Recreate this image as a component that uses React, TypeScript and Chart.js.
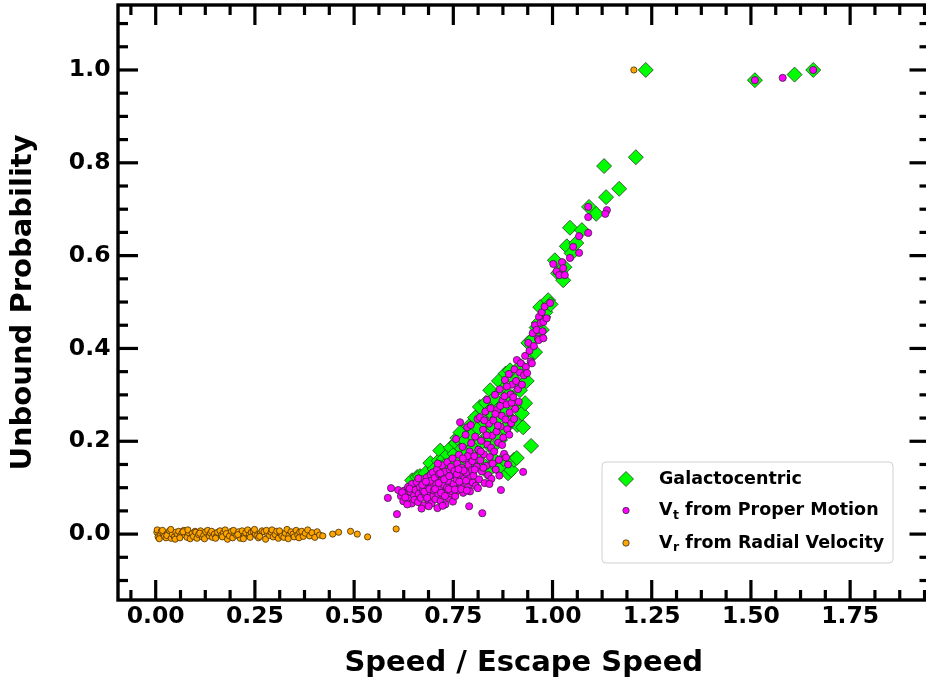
import { useEffect, useRef } from 'react';
import { Chart, registerables } from 'chart.js';

Chart.register(...registerables);

// ---- axes ----
const X_MIN = -0.095;
const X_MAX = 1.95;
const Y_MIN = -0.142;
const Y_MAX = 1.14;
const X_TICKS = [0, 0.25, 0.5, 0.75, 1.0, 1.25, 1.5, 1.75];
const Y_TICKS = [0.0, 0.2, 0.4, 0.6, 0.8, 1.0];
const X_MINOR_STEP = 0.0625;
const Y_MINOR_STEP = 0.05;
const X_TITLE = 'Speed / Escape Speed';
const Y_TITLE = 'Unbound Probability';

// ---- legend ----
const LEGEND_ITEMS = [
  { main: 'Galactocentric', sub: '', rest: '' },
  { main: 'V', sub: 't', rest: ' from Proper Motion' },
  { main: 'V', sub: 'r', rest: ' from Radial Velocity' },
];

// ---- data: [speed / escape speed, unbound probability] ----
const galactocentric: [number, number][] = [
  [0.646, 0.116], [0.659, 0.123], [0.666, 0.125], [0.672, 0.110], [0.680, 0.131], [0.686, 0.118],
  [0.692, 0.153], [0.697, 0.126], [0.703, 0.140], [0.708, 0.131], [0.713, 0.158], [0.717, 0.180],
  [0.721, 0.143], [0.726, 0.162], [0.731, 0.150], [0.736, 0.171], [0.740, 0.137], [0.744, 0.186],
  [0.749, 0.158], [0.753, 0.173], [0.757, 0.196], [0.760, 0.207], [0.764, 0.162], [0.768, 0.219],
  [0.772, 0.184], [0.776, 0.149], [0.780, 0.202], [0.785, 0.175], [0.789, 0.232], [0.793, 0.160],
  [0.797, 0.214], [0.801, 0.187], [0.805, 0.251], [0.809, 0.170], [0.813, 0.228], [0.817, 0.274],
  [0.821, 0.198], [0.825, 0.150], [0.829, 0.241], [0.832, 0.283], [0.835, 0.134], [0.838, 0.212],
  [0.841, 0.265], [0.843, 0.310], [0.847, 0.186], [0.850, 0.232], [0.853, 0.292], [0.856, 0.158],
  [0.860, 0.145], [0.862, 0.251], [0.865, 0.330], [0.868, 0.203], [0.868, 0.142], [0.871, 0.275],
  [0.874, 0.310], [0.876, 0.162], [0.879, 0.228], [0.882, 0.346], [0.885, 0.265], [0.888, 0.131],
  [0.890, 0.300], [0.893, 0.353], [0.896, 0.138], [0.899, 0.244], [0.903, 0.160], [0.906, 0.330],
  [0.910, 0.164], [0.911, 0.235], [0.915, 0.275], [0.918, 0.310], [0.920, 0.362], [0.923, 0.260],
  [0.926, 0.230], [0.931, 0.282], [0.935, 0.330], [0.939, 0.412], [0.946, 0.190], [0.948, 0.418],
  [0.951, 0.390], [0.956, 0.392], [0.960, 0.445], [0.965, 0.455], [0.969, 0.489], [0.973, 0.440],
  [0.977, 0.468], [0.982, 0.478], [0.989, 0.504], [0.995, 0.495],
  [1.006, 0.590], [1.014, 0.562], [1.027, 0.547], [1.030, 0.575], [1.036, 0.620], [1.044, 0.660],
  [1.048, 0.605], [1.060, 0.627], [1.074, 0.655], [1.092, 0.705], [1.110, 0.690], [1.130, 0.793],
  [1.135, 0.726], [1.168, 0.744], [1.210, 0.812], [1.235, 1.000], [1.510, 0.978], [1.610, 0.990],
  [1.657, 1.000],
];

const properMotion: [number, number][] = [
  [0.585, 0.078], [0.593, 0.099], [0.608, 0.043], [0.611, 0.095], [0.618, 0.082], [0.624, 0.071],
  [0.627, 0.094], [0.632, 0.087], [0.636, 0.102], [0.639, 0.076], [0.642, 0.091], [0.645, 0.066],
  [0.648, 0.099], [0.651, 0.083], [0.634, 0.064], [0.621, 0.090], [0.646, 0.108], [0.629, 0.079],
  [0.640, 0.098], [0.652, 0.074],
  [0.655, 0.095], [0.658, 0.112], [0.661, 0.069], [0.663, 0.087], [0.666, 0.101], [0.668, 0.078],
  [0.671, 0.118], [0.673, 0.093], [0.676, 0.062], [0.678, 0.106], [0.680, 0.084], [0.683, 0.122],
  [0.685, 0.099], [0.687, 0.073], [0.689, 0.111], [0.691, 0.089], [0.693, 0.128], [0.695, 0.066],
  [0.697, 0.104], [0.699, 0.082], [0.662, 0.120], [0.670, 0.055], [0.677, 0.091], [0.684, 0.078],
  [0.690, 0.097], [0.694, 0.115], [0.698, 0.133], [0.688, 0.060], [0.672, 0.106], [0.681, 0.113],
  [0.701, 0.094], [0.703, 0.121], [0.705, 0.075], [0.707, 0.108], [0.709, 0.140], [0.710, 0.056],
  [0.712, 0.087], [0.714, 0.129], [0.716, 0.099], [0.718, 0.071], [0.720, 0.115], [0.722, 0.148],
  [0.724, 0.083], [0.726, 0.106], [0.728, 0.134], [0.730, 0.064], [0.731, 0.093], [0.733, 0.121],
  [0.735, 0.155], [0.737, 0.078], [0.739, 0.112], [0.741, 0.139], [0.743, 0.088], [0.745, 0.102],
  [0.746, 0.127], [0.748, 0.163], [0.749, 0.070], [0.704, 0.097], [0.713, 0.110], [0.719, 0.089],
  [0.727, 0.118], [0.734, 0.100], [0.740, 0.125], [0.747, 0.092], [0.711, 0.152], [0.723, 0.061],
  [0.738, 0.097], [0.744, 0.145], [0.729, 0.082], [0.717, 0.131],
  [0.751, 0.108], [0.753, 0.136], [0.755, 0.082], [0.757, 0.205], [0.758, 0.118], [0.760, 0.152],
  [0.762, 0.094], [0.764, 0.171], [0.766, 0.127], [0.767, 0.241], [0.769, 0.104], [0.771, 0.143],
  [0.773, 0.188], [0.775, 0.089], [0.777, 0.119], [0.779, 0.160], [0.781, 0.214], [0.783, 0.132],
  [0.785, 0.230], [0.787, 0.101], [0.788, 0.149], [0.790, 0.060], [0.791, 0.178], [0.793, 0.121],
  [0.795, 0.196], [0.797, 0.138], [0.799, 0.111], [0.754, 0.096], [0.759, 0.129], [0.765, 0.113],
  [0.770, 0.097], [0.776, 0.137], [0.782, 0.115], [0.786, 0.168], [0.792, 0.092], [0.798, 0.157],
  [0.763, 0.140], [0.774, 0.163], [0.784, 0.094], [0.794, 0.235],
  [0.801, 0.126], [0.803, 0.168], [0.805, 0.210], [0.807, 0.104], [0.809, 0.145], [0.811, 0.248],
  [0.813, 0.182], [0.815, 0.118], [0.817, 0.252], [0.818, 0.159], [0.820, 0.201], [0.822, 0.135],
  [0.823, 0.045], [0.825, 0.225], [0.827, 0.172], [0.829, 0.110], [0.831, 0.264], [0.833, 0.147],
  [0.835, 0.289], [0.836, 0.193], [0.838, 0.127], [0.840, 0.238], [0.842, 0.166], [0.844, 0.271],
  [0.846, 0.119], [0.848, 0.212], [0.849, 0.152], [0.804, 0.139], [0.812, 0.099], [0.819, 0.178],
  [0.826, 0.143], [0.834, 0.213], [0.841, 0.108], [0.845, 0.186], [0.828, 0.245],
  [0.851, 0.245], [0.853, 0.178], [0.855, 0.300], [0.857, 0.139], [0.859, 0.221], [0.861, 0.268],
  [0.863, 0.197], [0.865, 0.160], [0.867, 0.312], [0.869, 0.232], [0.870, 0.095], [0.872, 0.255],
  [0.874, 0.288], [0.876, 0.208], [0.878, 0.173], [0.880, 0.332], [0.882, 0.247], [0.884, 0.279],
  [0.886, 0.226], [0.888, 0.150], [0.890, 0.345], [0.892, 0.262], [0.894, 0.301], [0.896, 0.239],
  [0.898, 0.322], [0.856, 0.259], [0.862, 0.234], [0.868, 0.276], [0.873, 0.192], [0.879, 0.297],
  [0.885, 0.318], [0.891, 0.214], [0.897, 0.283], [0.866, 0.126], [0.883, 0.165],
  [0.901, 0.295], [0.904, 0.355], [0.906, 0.270], [0.908, 0.330], [0.910, 0.375], [0.913, 0.312],
  [0.915, 0.285], [0.918, 0.348], [0.920, 0.368], [0.923, 0.322], [0.926, 0.134], [0.928, 0.342],
  [0.931, 0.384], [0.933, 0.360], [0.936, 0.347], [0.939, 0.412], [0.942, 0.395], [0.945, 0.372],
  [0.948, 0.368], [0.903, 0.248],
  [0.950, 0.433], [0.953, 0.405], [0.956, 0.450], [0.960, 0.440], [0.963, 0.421], [0.965, 0.418],
  [0.966, 0.468], [0.970, 0.455], [0.973, 0.478], [0.975, 0.437], [0.977, 0.457], [0.977, 0.422],
  [0.980, 0.490], [0.985, 0.465], [0.994, 0.498],
  [1.002, 0.582], [1.010, 0.566], [1.017, 0.558], [1.024, 0.586], [1.027, 0.573], [1.031, 0.558],
  [1.044, 0.595], [1.052, 0.619], [1.067, 0.606], [1.067, 0.642], [1.090, 0.649], [1.090, 0.705],
  [1.090, 0.683], [1.137, 0.698], [1.133, 0.690],
  [1.510, 0.978], [1.580, 0.983], [1.657, 1.000],
];

const radialVelocity: [number, number][] = [
  [0.003, 0.004], [0.006, -0.006], [0.004, 0.009], [0.011, -0.002], [0.014, 0.006], [0.009, -0.010],
  [0.019, 0.001], [0.022, -0.005], [0.017, 0.008], [0.026, -0.008], [0.031, 0.003], [0.028, -0.003],
  [0.035, 0.007], [0.039, -0.009], [0.042, 0.000], [0.038, 0.010], [0.047, -0.006], [0.051, 0.004],
  [0.055, -0.001], [0.049, -0.011], [0.058, 0.006], [0.062, -0.004], [0.066, 0.002], [0.061, -0.008],
  [0.071, 0.008], [0.074, -0.002], [0.069, 0.005], [0.079, -0.007], [0.083, 0.003], [0.087, -0.010],
  [0.081, 0.009], [0.092, 0.001], [0.095, -0.005], [0.099, 0.006], [0.104, -0.009], [0.101, 0.004],
  [0.108, -0.001], [0.113, 0.007], [0.117, -0.006], [0.111, 0.002], [0.121, -0.003], [0.126, 0.005],
  [0.123, -0.010], [0.131, 0.008], [0.135, -0.004], [0.138, 0.002], [0.143, -0.007], [0.141, 0.006],
  [0.148, 0.000], [0.153, -0.005], [0.156, 0.004], [0.151, -0.009], [0.162, 0.007], [0.166, -0.002],
  [0.171, 0.003], [0.168, -0.006], [0.175, 0.009], [0.181, -0.011], [0.178, 0.001], [0.186, -0.004],
  [0.191, 0.006], [0.194, -0.008], [0.199, 0.002], [0.196, 0.008], [0.204, -0.003], [0.209, 0.005],
  [0.213, -0.009], [0.207, -0.001], [0.218, 0.007], [0.223, -0.005], [0.227, 0.003], [0.221, -0.010],
  [0.232, 0.009], [0.236, -0.002], [0.241, 0.004], [0.238, -0.007], [0.246, 0.006], [0.251, 0.000],
  [0.255, -0.004], [0.249, 0.010], [0.259, -0.008], [0.264, 0.002], [0.268, 0.007], [0.262, -0.005],
  [0.273, 0.005], [0.277, -0.011], [0.282, 0.001], [0.279, 0.008], [0.287, -0.003], [0.291, 0.004],
  [0.296, -0.006], [0.293, 0.009], [0.301, -0.001], [0.305, 0.006], [0.309, -0.009], [0.314, 0.003],
  [0.318, -0.004], [0.312, 0.007], [0.323, -0.007], [0.327, 0.002], [0.331, 0.010], [0.336, -0.003],
  [0.334, -0.010], [0.341, 0.005], [0.346, 0.000], [0.349, -0.006], [0.354, 0.008], [0.358, -0.002],
  [0.363, 0.004], [0.361, -0.008], [0.368, 0.006], [0.372, -0.005], [0.377, 0.002], [0.383, 0.009],
  [0.388, -0.004], [0.394, 0.003], [0.401, -0.007], [0.407, 0.005], [0.413, -0.002], [0.421, -0.004],
  [0.446, 0.000], [0.461, 0.004], [0.491, 0.006], [0.508, 0.000], [0.534, -0.006], [0.606, 0.011],
  [1.205, 1.000],
];

const COLORS = {
  gal: '#00ff00',
  proper: '#ff00ff',
  radial: '#ffa500',
  edge: 'rgba(40,40,40,0.75)',
};

const FONT = 'DejaVu Sans';

const toPts = (arr: [number, number][]) => arr.map(([x, y]) => ({ x, y }));

const isMultiple = (v: number, step: number) => Math.abs(v / step - Math.round(v / step)) < 1e-6;

const zeroPadding = (scale: any) => {
  scale.paddingTop = 0;
  scale.paddingBottom = 0;
  scale.paddingLeft = 0;
  scale.paddingRight = 0;
};

const framePlugin = {
  id: 'mplFrame',
  afterDatasetsDraw(chart: any) {
    const { ctx, chartArea: ca, scales } = chart;
    const xs = scales.x;
    const ys = scales.y;
    ctx.save();
    ctx.strokeStyle = '#000';
    ctx.lineCap = 'butt';
    ctx.lineWidth = 3.2;
    const line = (x1: number, y1: number, x2: number, y2: number) => {
      ctx.beginPath();
      ctx.moveTo(x1, y1);
      ctx.lineTo(x2, y2);
      ctx.stroke();
    };
    const tickX = (v: number, len: number) => {
      const p = xs.getPixelForValue(v);
      line(p, ca.bottom, p, ca.bottom - len);
      line(p, ca.top, p, ca.top + len);
    };
    const tickY = (v: number, len: number) => {
      const p = ys.getPixelForValue(v);
      line(ca.left, p, ca.left + len, p);
      line(ca.right, p, ca.right - len, p);
    };
    for (let k = Math.ceil(xs.min / X_MINOR_STEP); k * X_MINOR_STEP <= xs.max; k++) {
      const v = k * X_MINOR_STEP;
      if (X_TICKS.some((t) => Math.abs(t - v) < 1e-6)) continue;
      tickX(v, 10);
    }
    X_TICKS.forEach((v) => tickX(v, 20));
    for (let k = Math.ceil(ys.min / Y_MINOR_STEP); k * Y_MINOR_STEP <= ys.max; k++) {
      const v = k * Y_MINOR_STEP;
      if (isMultiple(v, 0.2)) continue;
      tickY(v, 10);
    }
    for (let k = Math.ceil(ys.min / 0.2); k * 0.2 <= ys.max; k++) tickY(k * 0.2, 20);
    ctx.lineWidth = 3.4;
    ctx.strokeRect(ca.left, ca.top, ca.right - ca.left, ca.bottom - ca.top);
    ctx.restore();
  },
};

const legendPlugin = {
  id: 'mplLegend',
  afterDraw(chart: any) {
    const { ctx, chartArea: ca } = chart;
    const right = ca.right - 36.5;
    const bottom = ca.bottom - 37;
    const w = 291;
    const h = 101;
    const left = right - w;
    const top = bottom - h;
    ctx.save();
    ctx.beginPath();
    const r = 4;
    ctx.moveTo(left + r, top);
    ctx.lineTo(right - r, top);
    ctx.quadraticCurveTo(right, top, right, top + r);
    ctx.lineTo(right, bottom - r);
    ctx.quadraticCurveTo(right, bottom, right - r, bottom);
    ctx.lineTo(left + r, bottom);
    ctx.quadraticCurveTo(left, bottom, left, bottom - r);
    ctx.lineTo(left, top + r);
    ctx.quadraticCurveTo(left, top, left + r, top);
    ctx.closePath();
    ctx.fillStyle = 'rgba(255,255,255,0.85)';
    ctx.fill();
    ctx.strokeStyle = '#d0d0d0';
    ctx.lineWidth = 1;
    ctx.stroke();

    const mx = left + 24;
    const tx = left + 57;
    const rows = [top + 17, top + 48.5, top + 81];
    ctx.lineWidth = 1;
    ctx.strokeStyle = COLORS.edge;
    ctx.beginPath();
    const d = 7.5;
    ctx.moveTo(mx - d, rows[0]);
    ctx.lineTo(mx, rows[0] - d);
    ctx.lineTo(mx + d, rows[0]);
    ctx.lineTo(mx, rows[0] + d);
    ctx.closePath();
    ctx.fillStyle = COLORS.gal;
    ctx.fill();
    ctx.stroke();
    [[COLORS.proper, rows[1]], [COLORS.radial, rows[2]]].forEach(([c, y]: any) => {
      ctx.beginPath();
      ctx.arc(mx, y, 3.2, 0, Math.PI * 2);
      ctx.fillStyle = c;
      ctx.fill();
      ctx.stroke();
    });

    ctx.fillStyle = '#000';
    ctx.textBaseline = 'middle';
    ctx.textAlign = 'left';
    LEGEND_ITEMS.forEach((item, i) => {
      const y = rows[i];
      let x = tx;
      ctx.font = `bold 17.5px "${FONT}"`;
      ctx.fillText(item.main, x, y);
      x += ctx.measureText(item.main).width;
      if (item.sub) {
        ctx.font = `bold 12.5px "${FONT}"`;
        ctx.fillText(item.sub, x + 0.5, y + 5);
        x += ctx.measureText(item.sub).width + 0.5;
        ctx.font = `bold 17.5px "${FONT}"`;
      }
      if (item.rest) ctx.fillText(item.rest, x, y);
    });
    ctx.restore();
  },
};

export default function App() {
  const canvasRef = useRef<HTMLCanvasElement | null>(null);

  useEffect(() => {
    document.body.style.margin = '0';
    const canvas = canvasRef.current;
    if (!canvas) return;
    const chart = new Chart(canvas, {
      type: 'scatter',
      data: {
        datasets: [
          {
            label: 'Galactocentric',
            data: toPts(galactocentric),
            pointStyle: 'rectRot',
            pointRadius: 7.5,
            backgroundColor: COLORS.gal,
            borderColor: COLORS.edge,
            borderWidth: 1,
            order: 3,
          },
          {
            label: 'Vt from Proper Motion',
            data: toPts(properMotion),
            pointStyle: 'circle',
            pointRadius: 3.6,
            backgroundColor: COLORS.proper,
            borderColor: COLORS.edge,
            borderWidth: 1,
            order: 2,
          },
          {
            label: 'Vr from Radial Velocity',
            data: toPts(radialVelocity),
            pointStyle: 'circle',
            pointRadius: 3.1,
            backgroundColor: COLORS.radial,
            borderColor: 'rgba(80,50,0,0.85)',
            borderWidth: 1,
            order: 1,
          },
        ],
      },
      options: {
        responsive: false,
        animation: false,
        events: [],
        devicePixelRatio: 1,
        layout: { autoPadding: false, padding: { left: 0, right: 2.5, top: 5, bottom: 0 } },
        plugins: {
          legend: { display: false },
          tooltip: { enabled: false },
        },
        scales: {
          x: {
            type: 'linear',
            min: X_MIN,
            max: X_MAX,
            grid: { display: false, drawTicks: false },
            border: { display: false },
            afterBuildTicks: (scale: any) => {
              scale.ticks = X_TICKS.map((v) => ({ value: v }));
            },
            afterFit: (scale: any) => {
              scale.height = 81;
              zeroPadding(scale);
            },
            ticks: {
              padding: 3,
              color: '#000',
              font: { family: FONT, size: 23.5, weight: 'bold' },
              maxRotation: 0,
              callback: (v: any) => Number(v).toFixed(2),
            },
            title: {
              display: true,
              text: X_TITLE,
              color: '#000',
              font: { family: FONT, size: 29, weight: 'bold' },
              padding: { top: 0, bottom: 0 },
            },
          },
          y: {
            type: 'linear',
            min: Y_MIN,
            max: Y_MAX,
            grid: { display: false, drawTicks: false },
            border: { display: false },
            afterBuildTicks: (scale: any) => {
              scale.ticks = Y_TICKS.map((v) => ({ value: v }));
            },
            afterFit: (scale: any) => {
              scale.width = 118;
              zeroPadding(scale);
            },
            ticks: {
              padding: 7.5,
              color: '#000',
              font: { family: FONT, size: 23.5, weight: 'bold' },
              callback: (v: any) => Number(v).toFixed(1),
            },
            title: {
              display: true,
              text: Y_TITLE,
              color: '#000',
              font: { family: FONT, size: 29, weight: 'bold' },
              padding: { top: 6, bottom: 0 },
            },
          },
        },
      },
      plugins: [framePlugin, legendPlugin],
    } as any);
    return () => chart.destroy();
  }, []);

  return (
    <div
      style={{
        position: 'fixed',
        left: 0,
        top: 0,
        width: 926,
        height: 681,
        overflow: 'hidden',
        background: '#fff',
      }}
    >
      <canvas ref={canvasRef} width={932} height={681} style={{ width: 932, height: 681, display: 'block' }} />
    </div>
  );
}
